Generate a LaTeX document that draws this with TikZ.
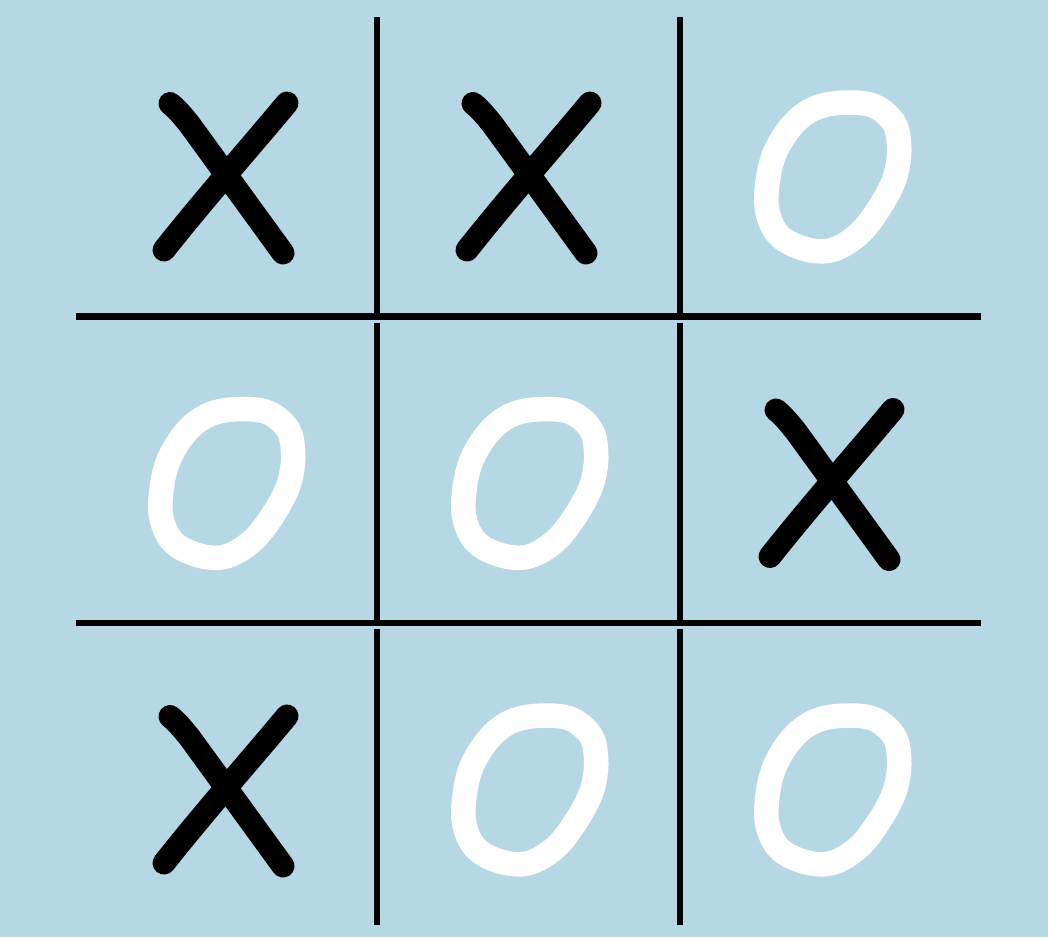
\documentclass[tikz,border=0pt]{standalone}
\usepackage{tikz}

\definecolor{boardblue}{RGB}{182,216,228}

\tikzset{
  gridline/.style={line width=0.135cm,black},
  xstroke/.style={line width=0.46cm,black,line cap=round},
  ostroke/.style={line width=0.49cm,white},
  xmark/.pic={
    \draw[xstroke] (-58,-71.5) .. controls (-52,-67) and (-46,-60) .. (-38,-50)
      -- (55,78);
    \draw[xstroke] (59,-72) .. controls (25,-31) and (-22,22) .. (-64,75);
  },
  omark/.pic={
    \draw[ostroke] plot[smooth cycle,tension=0.6] coordinates {
      (10.4,-72.4) (40,-69) (60,-52) (65.1,-30) (63.5,-8)
      (57.4,11.3) (43.2,36.1) (24.3,59.5) (-1.1,74.7) (-27.3,74.4)
      (-53.8,61.6) (-66.3,37.8) (-66.6,8.7) (-59,-22.4) (-40.8,-50.8)
      (-18.3,-67.1)};
  }
}

\begin{document}
\begin{tikzpicture}[x=0.02cm,y=-0.02cm]
  \fill[boardblue] (0,0) rectangle (1048,937);
  \useasboundingbox (0,0) rectangle (1048,937);
  %\draw[very thin,lightgray] (0,0) grid[step=100] (1048,937);
  % board lines
  \foreach \x in {377,680} {
    \draw[gridline] (\x,17)--(\x,319.5);
    \draw[gridline] (\x,322.7)--(\x,625.5);
    \draw[gridline] (\x,628.5)--(\x,925);
  }
  \foreach \y in {316.5,623}
    \draw[gridline] (76,\y)--(981,\y);
  % marks
  \foreach \c/\r in {0/0,1/0,2/1,0/2}
    \pic at ({228+303*\c},{175+306.5*\r}) {xmark};
  \foreach \c/\r in {2/0,0/1,1/1,1/2,2/2}
    \pic at ({228+303*\c},{175+306.5*\r}) {omark};
\end{tikzpicture}
\end{document}
